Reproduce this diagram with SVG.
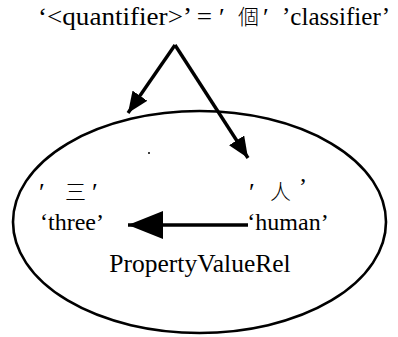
<svg xmlns="http://www.w3.org/2000/svg" width="398" height="337" viewBox="0 0 398 337">
<style>
.t{font-family:"Liberation Serif","Noto Sans CJK TC",serif;font-size:24px;fill:#000}
.h{font-family:"Liberation Serif","Noto Sans CJK TC",serif;font-size:26px;fill:#000}
.c{font-family:"Noto Sans CJK TC","Liberation Serif",serif;font-size:21px;font-weight:300;fill:#000}
.p{font-family:"Liberation Serif",serif;font-size:26px;fill:#000}
.e{stroke:#000;stroke-width:2.6;fill:none}
.a{stroke:#000;stroke-width:3.4;fill:none}
</style>
<defs>
<marker id="ah" markerUnits="userSpaceOnUse" markerWidth="22" markerHeight="18" refX="21" refY="9" orient="auto"><path d="M0,0 L21,9 L0,18 z" fill="#000"/></marker>
<marker id="big" markerUnits="userSpaceOnUse" markerWidth="36" markerHeight="30" refX="35" refY="15" orient="auto"><path d="M0,1 L35,15 L0,29 z" fill="#000"/></marker>
</defs>
<rect width="398" height="337" fill="#fff"/>
<g id="header">
<text class="h" x="38" y="25" textLength="174" lengthAdjust="spacingAndGlyphs">‘&lt;quantifier&gt;’ =</text>
<text class="p" x="219" y="26">′</text>
<text class="c" x="238" y="24">個</text>
<text class="p" x="263" y="26">′</text>
<text class="h" x="282" y="25" textLength="108" lengthAdjust="spacingAndGlyphs">’classifier’</text>
</g>
<g id="rel">
<ellipse class="e" cx="199.5" cy="222" rx="186.5" ry="111"/>
<text class="t" x="200" y="272" text-anchor="middle" style="font-size:25.5px">PropertyValueRel</text>
<circle cx="149" cy="153" r="1" fill="#000"/>
</g>
<g id="three">
<text class="p" x="39" y="201">′</text>
<text class="c" x="65" y="199">三</text>
<text class="p" x="92" y="201">′</text>
<text class="t" x="72" y="230" text-anchor="middle">‘three’</text>
</g>
<g id="human">
<text class="p" x="249" y="201">′</text>
<text class="c" x="270" y="199">人</text>
<text class="t" x="299" y="194">’</text>
<text class="t" x="288" y="230" text-anchor="middle">‘human’</text>
</g>
<g id="connectors">
<path class="a" d="M175,45 L128,113" marker-end="url(#ah)"/>
<path class="a" d="M175,45 L248,158" marker-end="url(#ah)"/>
<path class="a" d="M248,225 L128,225" marker-end="url(#big)"/>
</g>
</svg>
